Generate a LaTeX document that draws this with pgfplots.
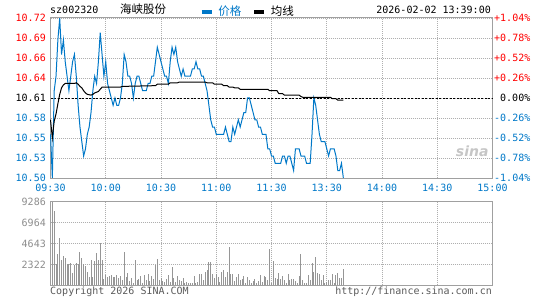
\documentclass[border=0pt]{standalone}
\usepackage{pgfplots}
\pgfplotsset{compat=1.18}
\usepackage{fontspec}
\setmainfont{DejaVu Sans Mono}
\newfontfamily\cjk{Noto Sans CJK SC}
\newfontfamily\sinafont{DejaVu Sans}
\definecolor{sblue}{RGB}{0,120,200}
\definecolor{sred}{RGB}{255,0,0}
\definecolor{framegray}{RGB}{160,160,160}
\definecolor{gridgray}{RGB}{175,175,175}
\definecolor{bargray}{RGB}{150,150,150}
\definecolor{labgray}{RGB}{140,140,140}
\definecolor{copygray}{RGB}{90,90,90}
\begin{document}
\fontsize{10}{12}\selectfont
\begin{tikzpicture}[x=1pt,y=1pt]
\useasboundingbox (0,0) rectangle (545,300);
% header texts
\node[anchor=base west, inner sep=0pt] at (50,286) {sz002320};
\node[anchor=base west, inner sep=0pt, font=\cjk\fontsize{11.5}{12}\selectfont] at (120,286) {海峡股份};
\node[anchor=base east, inner sep=0pt] at (491,286) {2026-02-02 13:39:00};
% footer texts
\node[anchor=base west, inner sep=0pt, text=copygray] at (50,6) {Copyright 2026 SINA.COM};
\node[anchor=base east, inner sep=0pt, text=copygray] at (492,6) {http://finance.sina.com.cn};

\begin{axis}[
  at={(50.5pt,122pt)}, anchor=south west,
  scale only axis, width=442pt, height=160pt,
  xmin=0, xmax=240, ymin=10.4997, ymax=10.7203,
  clip=false,
  axis line style={framegray, line width=1pt},
  xtick={0,30,...,240},
  xticklabels={09:30,10:00,10:30,11:00,11:30,13:30,14:00,14:30,15:00},
  ytick={10.4997,10.5273,10.5549,10.5824,10.61,10.6376,10.6652,10.6927,10.7203},
  yticklabels={\textcolor{sblue}{10.50},\textcolor{sblue}{10.53},\textcolor{sblue}{10.55},\textcolor{sblue}{10.58},10.61,\textcolor{sred}{10.64},\textcolor{sred}{10.66},\textcolor{sred}{10.69},\textcolor{sred}{10.72}},
  major tick length=0pt,
  grid=major,
  major grid style={gridgray, dash pattern=on 1pt off 1pt, line width=0.8pt},
  tick label style={font=\fontsize{10}{12}\selectfont, inner sep=0pt},
  xticklabel style={text=sblue, anchor=north, yshift=-6pt},
  yticklabel style={anchor=east, xshift=-4.5pt},
  /pgf/number format/assume math mode=true,
  legend style={at={(0.338,1.039)}, anchor=west, draw=none, fill=none, inner sep=0pt, outer sep=0pt,
    font=\cjk\fontsize{11.5}{12}\selectfont, legend columns=2,
    /tikz/every odd column/.append style={column sep=5pt},
    /tikz/every even column/.append style={column sep=11pt},
    nodes={inner sep=0pt}},
  legend image code/.code={\draw[#1, line width=3.5pt] (0pt,0pt) -- (10pt,0pt);},
]
\addlegendimage{sblue}
\addlegendentry{\textcolor{sblue}{价格}}
\addlegendimage{black}
\addlegendentry{均线}
\addplot[black, line width=0.9pt, dash pattern=on 2pt off 1.5pt, forget plot] coordinates {(0,10.61) (240,10.61)};
\addplot[sblue, line width=1pt, forget plot] coordinates {
(0,10.56) (1,10.50) (2,10.62) (3,10.64) (4,10.69) (5,10.72) (6,10.67) (7,10.69) (8,10.66) (9,10.64)
(10,10.62) (11,10.64) (12,10.66) (13,10.67) (14,10.64) (15,10.60) (16,10.57) (17,10.55) (18,10.53) (19,10.54)
(20,10.56) (21,10.57) (22,10.59) (23,10.62) (24,10.64) (25,10.63) (26,10.66) (27,10.70) (28,10.67) (29,10.64)
(30,10.66) (31,10.63) (32,10.62) (33,10.61) (34,10.60) (35,10.61) (36,10.60) (37,10.60) (38,10.61) (39,10.63)
(40,10.67) (41,10.66) (42,10.64) (43,10.64) (44,10.63) (45,10.61) (46,10.63) (47,10.64) (48,10.64) (49,10.63)
(50,10.62) (51,10.62) (52,10.62) (53,10.63) (54,10.63) (55,10.64) (56,10.64) (57,10.66) (58,10.68) (59,10.67)
(60,10.66) (61,10.65) (62,10.64) (63,10.64) (64,10.63) (65,10.66) (66,10.68) (67,10.67) (68,10.68) (69,10.66)
(70,10.65) (71,10.64) (72,10.65) (73,10.64) (74,10.64) (75,10.64) (76,10.64) (77,10.65) (78,10.65) (79,10.66)
(80,10.65) (81,10.65) (82,10.64) (83,10.64) (84,10.63) (85,10.62) (86,10.60) (87,10.58) (88,10.57) (89,10.57)
(90,10.56) (91,10.56) (92,10.56) (93,10.56) (94,10.56) (95,10.57) (96,10.56) (97,10.55) (98,10.55) (99,10.57)
(100,10.56) (101,10.57) (102,10.58) (103,10.57) (104,10.58) (105,10.59) (106,10.59) (107,10.61) (108,10.61) (109,10.60)
(110,10.59) (111,10.58) (112,10.58) (113,10.57) (114,10.57) (115,10.56) (116,10.56) (117,10.56) (118,10.54) (119,10.54)
(120,10.53) (121,10.53) (122,10.52) (123,10.52) (124,10.52) (125,10.52) (126,10.53) (127,10.53) (128,10.52) (129,10.53)
(130,10.53) (131,10.52) (132,10.51) (133,10.54) (134,10.54) (135,10.54) (136,10.53) (137,10.53) (138,10.53) (139,10.52)
(140,10.52) (141,10.52) (142,10.56) (143,10.61) (144,10.60) (145,10.58) (146,10.56) (147,10.55) (148,10.55) (149,10.55)
(150,10.54) (151,10.53) (152,10.54) (153,10.54) (154,10.54) (155,10.53) (156,10.51) (157,10.51) (158,10.52) (159,10.50)
};
\addplot[black, line width=1pt, forget plot] coordinates {
(0,10.58) (1,10.555) (2,10.578) (3,10.588) (4,10.602) (5,10.615) (6,10.624) (7,10.628) (8,10.630) (13,10.630)
(14,10.631) (15,10.629) (16,10.626) (17,10.624) (18,10.620) (19,10.617) (20,10.615) (22,10.614) (23,10.615) (24,10.617)
(26,10.619) (27,10.622) (28,10.625) (38,10.625) (39,10.626) (57,10.627) (58,10.629) (64,10.629) (65,10.631) (69,10.631)
(70,10.632) (84,10.632) (85,10.631) (88,10.631) (89,10.629) (93,10.629) (94,10.627) (96,10.627) (97,10.625) (99,10.625)
(100,10.624) (102,10.624) (103,10.622) (118,10.622) (119,10.620) (123,10.620) (124,10.616) (126,10.616) (127,10.614) (135,10.614)
(136,10.612) (137,10.611) (152,10.611) (153,10.609) (155,10.609) (156,10.607) (159,10.607)
};
% right-hand percentage labels
\node[anchor=west, inner sep=0pt, xshift=1.5pt, text=sred] at (axis cs:240,10.7203) {+1.04\%};
\node[anchor=west, inner sep=0pt, xshift=1.5pt, text=sred] at (axis cs:240,10.6927) {+0.78\%};
\node[anchor=west, inner sep=0pt, xshift=1.5pt, text=sred] at (axis cs:240,10.6652) {+0.52\%};
\node[anchor=west, inner sep=0pt, xshift=1.5pt, text=sred] at (axis cs:240,10.6376) {+0.26\%};
\node[anchor=west, inner sep=0pt, xshift=7.5pt] at (axis cs:240,10.61) {0.00\%};
\node[anchor=west, inner sep=0pt, xshift=1.5pt, text=sblue] at (axis cs:240,10.5824) {-0.26\%};
\node[anchor=west, inner sep=0pt, xshift=1.5pt, text=sblue] at (axis cs:240,10.5549) {-0.52\%};
\node[anchor=west, inner sep=0pt, xshift=1.5pt, text=sblue] at (axis cs:240,10.5273) {-0.78\%};
\node[anchor=west, inner sep=0pt, xshift=1.5pt, text=sblue] at (axis cs:240,10.4997) {-1.04\%};
% watermark
\node[inner sep=0pt, text=gray!45, font=\sinafont\bfseries\itshape\fontsize{14}{14}\selectfont] at (axis cs:229,10.5363) {sina};
\end{axis}

\begin{axis}[
  at={(50.5pt,14.7pt)}, anchor=south west,
  scale only axis, width=442pt, height=83.6pt,
  xmin=0, xmax=240, ymin=0, ymax=9286,
  axis line style={framegray, line width=1pt},
  xtick={0,30,...,240}, xticklabels={},
  ytick={2322,4643,6964,9286}, yticklabels={2322,4643,6964,9286},
  scaled y ticks=false,
  major tick length=0pt,
  grid=major,
  major grid style={gridgray, dash pattern=on 1pt off 1pt, line width=0.8pt},
  tick label style={font=\fontsize{10}{12}\selectfont, inner sep=0pt},
  yticklabel style={anchor=east, xshift=-4.5pt, text=labgray},
  /pgf/number format/assume math mode=true,
]
\addplot[ycomb, bargray, line width=1pt] coordinates {
(0,2250) (1,9286) (2,8300) (3,2330) (4,3450) (5,5200) (6,2800) (7,3250) (8,3000) (9,2350)
(10,2350) (11,2500) (12,1330) (13,2250) (14,2450) (15,2350) (16,3700) (17,3000) (18,2330) (19,2150)
(20,1450) (21,960) (22,2800) (23,960) (24,2750) (25,3630) (26,2800) (27,4650) (28,2800) (29,700)
(30,1150) (31,960) (32,1050) (33,1150) (34,890) (35,960) (36,1150) (37,780) (38,1050) (39,600)
(40,3700) (41,960) (42,1400) (43,500) (44,780) (45,300) (46,2800) (47,600) (48,700) (49,1000)
(50,300) (51,1100) (52,600) (53,1200) (54,500) (55,1000) (56,700) (57,2200) (58,2900) (59,600)
(60,800) (61,500) (62,350) (63,700) (64,1100) (65,400) (66,2000) (67,800) (68,400) (69,1000)
(70,600) (71,500) (72,800) (73,300) (74,400) (75,250) (76,300) (77,300) (78,1000) (79,300)
(80,400) (81,1300) (82,1200) (83,600) (84,1500) (85,1700) (86,2600) (87,2580) (88,1300) (89,800)
(90,1200) (91,900) (92,400) (93,1500) (94,1700) (95,900) (96,1500) (97,4250) (98,1200) (99,1200)
(100,500) (101,900) (102,1300) (103,600) (104,700) (105,1000) (106,300) (107,900) (108,600) (109,300)
(110,500) (111,700) (112,300) (113,500) (114,1100) (115,400) (116,1000) (117,900) (118,600) (119,3980)
(120,300) (121,2690) (122,800) (123,700) (124,1400) (125,700) (126,1000) (127,600) (128,300) (129,1200)
(130,600) (131,700) (132,700) (133,500) (134,300) (135,1000) (136,3430) (137,600) (138,300) (139,300)
(140,1100) (141,600) (142,2430) (143,1500) (144,3130) (145,1400) (146,1200) (147,600) (148,1100) (149,300)
(150,400) (151,600) (152,600) (153,1300) (154,300) (155,1100) (156,1400) (157,800) (158,800) (159,1770)
};
\end{axis}
\end{tikzpicture}
\end{document}
